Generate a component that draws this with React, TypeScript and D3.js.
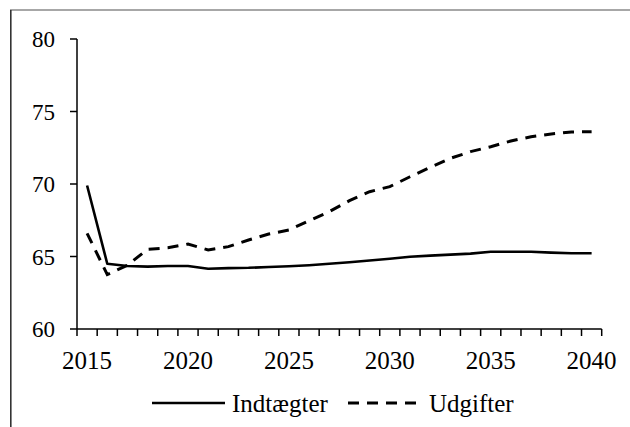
import React, { useRef, useEffect } from "react";
import { select, scaleBand, scaleLinear, line } from "d3";

const years = [
  2015, 2016, 2017, 2018, 2019, 2020, 2021, 2022, 2023, 2024, 2025, 2026, 2027,
  2028, 2029, 2030, 2031, 2032, 2033, 2034, 2035, 2036, 2037, 2038, 2039, 2040,
];

const indtaegter = [
  69.9, 64.5, 64.35, 64.3, 64.35, 64.35, 64.16, 64.2, 64.22, 64.28, 64.33, 64.4,
  64.5, 64.6, 64.72, 64.85, 64.98, 65.06, 65.13, 65.2, 65.33, 65.33, 65.33,
  65.27, 65.22, 65.22,
];

const udgifter = [
  66.6, 63.75, 64.4, 65.5, 65.6, 65.86, 65.45, 65.68, 66.14, 66.55, 66.83,
  67.47, 68.09, 68.85, 69.47, 69.82, 70.5, 71.15, 71.77, 72.23, 72.57, 72.97,
  73.26, 73.45, 73.59, 73.6,
];

const yTicks = [60, 65, 70, 75, 80];
const xLabels = [2015, 2020, 2025, 2030, 2035, 2040];
const seriesNames = ["Indtægter", "Udgifter"];

const FONT = "'Liberation Serif', 'Times New Roman', serif";

const App = () => {
  const ref = useRef(null);
  const width = 630;
  const height = 427;

  useEffect(() => {
    const svg = select(ref.current);
    svg.selectAll("*").remove();

    const left = 77;
    const right = 601.7;
    const top = 39;
    const bottom = 329;

    const x = scaleBand().domain(years.map(String)).range([left, right]);
    const cx = (yr) => x(String(yr)) + x.bandwidth() / 2;
    const y = scaleLinear().domain([60, 80]).range([bottom, top]);

    // outer frame (cropped)
    svg.append("line")
      .attr("x1", 10).attr("y1", 10).attr("x2", width).attr("y2", 10)
      .attr("stroke", "#8a8a8a").attr("stroke-width", 1.6);
    svg.append("line")
      .attr("x1", 10.8).attr("y1", 10).attr("x2", 10.8).attr("y2", height)
      .attr("stroke", "#333").attr("stroke-width", 1.6);

    const g = svg.append("g");

    // y axis
    g.append("line")
      .attr("x1", left).attr("y1", top).attr("x2", left).attr("y2", bottom)
      .attr("stroke", "#000").attr("stroke-width", 1.5);
    yTicks.forEach((t) => {
      g.append("line")
        .attr("x1", left - 7).attr("x2", left)
        .attr("y1", y(t)).attr("y2", y(t))
        .attr("stroke", "#000").attr("stroke-width", 1.5);
      g.append("text")
        .attr("x", 55)
        .attr("y", y(t) + 8)
        .attr("text-anchor", "end")
        .style("font-family", FONT)
        .style("font-size", "23px")
        .attr("fill", "#000")
        .text(t);
    });

    // x axis
    g.append("line")
      .attr("x1", left).attr("y1", bottom).attr("x2", right).attr("y2", bottom)
      .attr("stroke", "#000").attr("stroke-width", 1.5);
    const bounds = years.map((yr) => x(String(yr))).concat([right]);
    bounds.forEach((bx) => {
      g.append("line")
        .attr("x1", bx).attr("x2", bx)
        .attr("y1", bottom).attr("y2", bottom + 7)
        .attr("stroke", "#000").attr("stroke-width", 1.5);
    });
    xLabels.forEach((yr) => {
      g.append("text")
        .attr("x", cx(yr))
        .attr("y", 368.5)
        .attr("text-anchor", "middle")
        .style("font-family", FONT)
        .style("font-size", "25px")
        .attr("fill", "#000")
        .text(yr);
    });

    const lineGen = line()
      .x((d, i) => cx(years[i]))
      .y((d) => y(d));

    g.append("path")
      .datum(indtaegter)
      .attr("fill", "none")
      .attr("stroke", "#000")
      .attr("stroke-width", 2.6)
      .attr("stroke-linejoin", "round")
      .attr("d", lineGen);

    g.append("path")
      .datum(udgifter)
      .attr("fill", "none")
      .attr("stroke", "#000")
      .attr("stroke-width", 3)
      .attr("stroke-dasharray", "11 8")
      .attr("d", lineGen);

    // legend
    const ly = 403;
    const legend = svg.append("g");
    legend.append("line")
      .attr("x1", 152).attr("x2", 225).attr("y1", ly).attr("y2", ly)
      .attr("stroke", "#000").attr("stroke-width", 2.6);
    legend.append("text")
      .attr("x", 232).attr("y", ly + 8.5)
      .style("font-family", FONT).style("font-size", "25px")
      .attr("fill", "#000")
      .text(seriesNames[0]);
    legend.append("line")
      .attr("x1", 348).attr("x2", 419).attr("y1", ly).attr("y2", ly)
      .attr("stroke", "#000").attr("stroke-width", 3)
      .attr("stroke-dasharray", "11 8");
    legend.append("text")
      .attr("x", 429).attr("y", ly + 8.5)
      .style("font-family", FONT).style("font-size", "25px")
      .attr("fill", "#000")
      .text(seriesNames[1]);
  }, []);

  return (
    <svg
      ref={ref}
      width={width}
      height={height}
      style={{ position: "absolute", left: 0, top: 0, background: "#fff" }}
    />
  );
};

export default App;
